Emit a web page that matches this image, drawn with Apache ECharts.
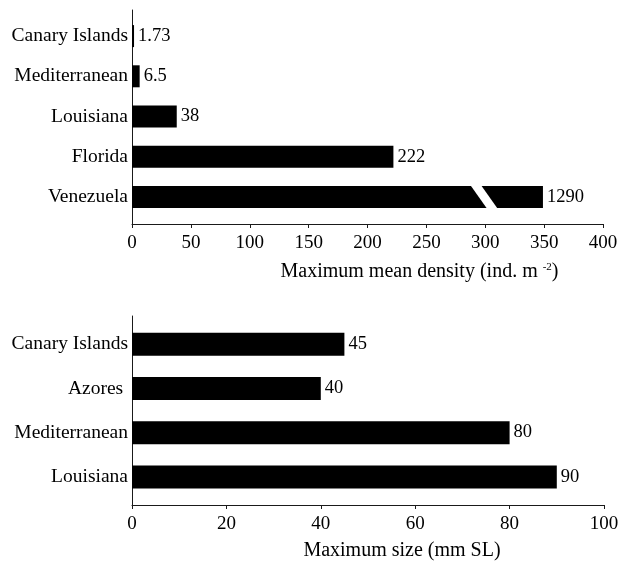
<!DOCTYPE html>
<html>
<head>
<meta charset="utf-8">
<script src="https://cdn.jsdelivr.net/npm/echarts@6.0.0/dist/echarts.min.js"></script>
<style>
html,body{margin:0;padding:0;background:#fff;}
#chart{width:638px;height:565px;}
</style>
</head>
<body>
<div id="chart"></div>
<script>
// ---- data ----
const densityCategories = ['Canary Islands', 'Mediterranean', 'Louisiana', 'Florida', 'Venezuela'];
const densityValues = [1.73, 6.5, 38, 222, 1290];          // reported values (labels)
const densityDrawnValues = [1.73, 6.5, 38, 222, 349];      // bar length on the truncated 0-400 axis
const densityBreakCategory = 'Venezuela';
const densityBreakRange = [287, 296, 311, 302];            // slash corners on the axis (top-left, top-right, bottom-right, bottom-left)
const densityTicks = [0, 50, 100, 150, 200, 250, 300, 350, 400];

const sizeCategories = ['Canary Islands', 'Azores ', 'Mediterranean', 'Louisiana'];
const sizeValues = [45, 40, 80, 90];
const sizeTicks = [0, 20, 40, 60, 80, 100];

// ---- styles ----
const FONT = '"Liberation Serif", "Times New Roman", serif';
const AXIS_COLOR = '#1a1a1a';

const chart = echarts.init(document.getElementById('chart'), null, {renderer: 'canvas'});

function frameY(gridIndex) {
  return {
    type: 'value', gridIndex: gridIndex, min: 0, max: 1,
    axisLine: {show: true, lineStyle: {color: AXIS_COLOR, width: 1}},
    axisTick: {show: false}, axisLabel: {show: false}, splitLine: {show: false}
  };
}
function visibleX(gridIndex, ticks, name, shift, gap) {
  return {
    type: 'value', gridIndex: gridIndex,
    min: ticks[0], max: ticks[ticks.length - 1], interval: ticks[1] - ticks[0],
    axisLine: {show: true, onZero: false, lineStyle: {color: AXIS_COLOR, width: 1}},
    axisTick: {show: true, inside: false, length: 4, lineStyle: {color: AXIS_COLOR}},
    axisLabel: {show: true, margin: 10, fontFamily: FONT, fontSize: 19, color: '#000'},
    splitLine: {show: false},
    name: name, nameLocation: 'middle', nameGap: gap,
    nameTextStyle: {
      fontFamily: FONT, fontSize: 20, color: '#000', padding: [0, 0, 0, shift * 2],
      rich: {sup: {fontFamily: FONT, fontSize: 11, color: '#000', verticalAlign: 'top', padding: [0, 0, 0, 0]}}
    }
  };
}
function hiddenX(gridIndex, ticks) {
  return {type: 'value', gridIndex: gridIndex, min: ticks[0], max: ticks[ticks.length - 1], show: false};
}
function catY(gridIndex, cats) {
  return {
    type: 'category', gridIndex: gridIndex, data: cats, inverse: true,
    axisLine: {show: false}, axisTick: {show: false},
    axisLabel: {margin: 4, fontFamily: FONT, fontSize: 19.5, color: '#000'}
  };
}

const option = {
  animation: false,
  backgroundColor: '#fff',
  grid: [
    {left: 132, right: 35, top: 16, height: 201},   // top bars
    {left: 132, right: 35, top: 10, height: 214},   // top frame
    {left: 132, right: 34, top: 322, height: 177},  // bottom bars
    {left: 132, right: 34, top: 316, height: 189}   // bottom frame
  ],
  xAxis: [
    hiddenX(0, densityTicks),
    visibleX(1, densityTicks, 'Maximum mean density (ind. m {sup|-2})', 52, 38),
    hiddenX(2, sizeTicks),
    visibleX(3, sizeTicks, 'Maximum size (mm SL)', 34, 36)
  ],
  yAxis: [
    catY(0, densityCategories),
    frameY(1),
    catY(2, sizeCategories),
    frameY(3)
  ],
  series: [
    {
      type: 'bar', xAxisIndex: 0, yAxisIndex: 0, barWidth: 22,
      data: densityDrawnValues,
      itemStyle: {color: '#000'},
      label: {
        show: true, position: 'right', distance: 4,
        fontFamily: FONT, fontSize: 18.5, color: '#000',
        formatter: p => String(densityValues[p.dataIndex])
      }
    },
    {
      type: 'custom', xAxisIndex: 0, yAxisIndex: 0, z: 5,
      data: [[densityBreakCategory].concat(densityBreakRange)],
      renderItem: function (params, api) {
        const cat = api.value(0);
        const h = 12.5;
        const tl = api.coord([api.value(1), cat]);
        const tr = api.coord([api.value(2), cat]);
        const br = api.coord([api.value(3), cat]);
        const bl = api.coord([api.value(4), cat]);
        return {
          type: 'polygon',
          shape: {points: [[tl[0], tl[1] - h], [tr[0], tr[1] - h], [br[0], br[1] + h], [bl[0], bl[1] + h]]},
          style: {fill: '#fff'}
        };
      },
      encode: {x: [1, 2, 3, 4], y: 0}
    },
    {
      type: 'bar', xAxisIndex: 2, yAxisIndex: 2, barWidth: 23,
      data: sizeValues,
      itemStyle: {color: '#000'},
      label: {
        show: true, position: 'right', distance: 4,
        fontFamily: FONT, fontSize: 18.5, color: '#000'
      }
    }
  ]
};
chart.setOption(option);
</script>
</body>
</html>
